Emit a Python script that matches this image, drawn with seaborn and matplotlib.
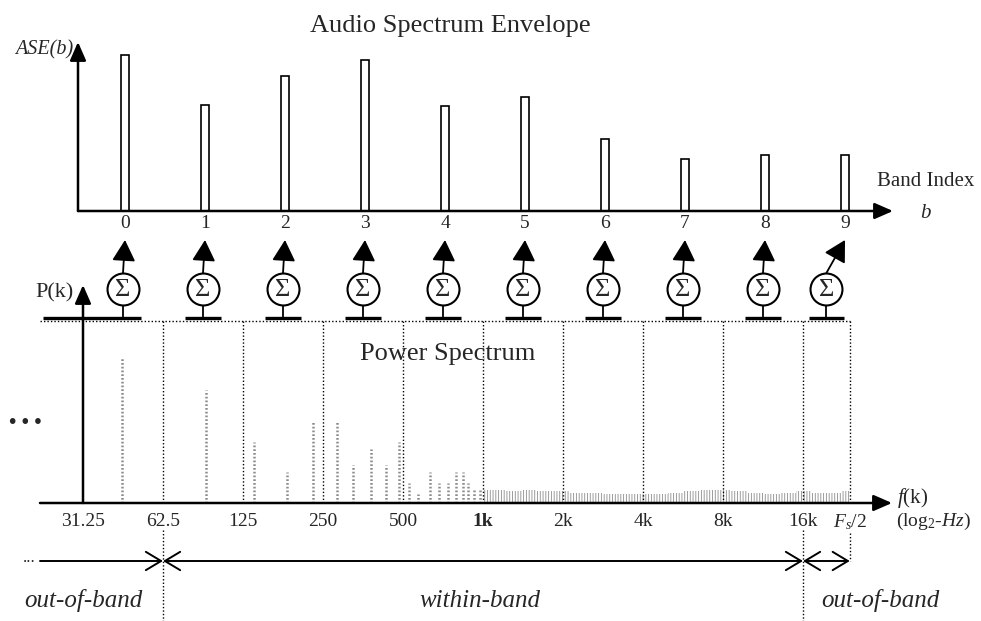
# ase_diagram.py
# Audio Spectrum Envelope: power spectrum summed into octave bands

import numpy as np
import matplotlib
matplotlib.use("Agg")
import matplotlib.pyplot as plt
import matplotlib.transforms as mtransforms
import seaborn as sns

# ----------------------------------------------------------------------
# Data
# ----------------------------------------------------------------------
bands = list(range(10))
ase_values = [0.97, 0.66, 0.84, 0.94, 0.65, 0.71, 0.45, 0.32, 0.35, 0.35]

# octave band edges (Hz); last one is Fs/2
band_edges = [31.25, 62.5, 125, 250, 500, 1000, 2000, 4000, 8000, 16000, 24000]
tick_labels = ["31.25", "62.5", "125", "250", "500", "1k", "2k", "4k", "8k",
               "16k", r"$F_s$/2"]

# harmonic peaks of the power spectrum
peak_freqs = [44, 91, 138, 183, 229, 282, 324, 379, 432, 483, 527, 570,
              632, 683, 739, 792, 841, 879, 925, 975]
peak_power = [1.00, 0.78, 0.42, 0.21, 0.56, 0.56, 0.26, 0.37, 0.26, 0.42,
              0.14, 0.06, 0.21, 0.14, 0.14, 0.21, 0.21, 0.14, 0.10, 0.10]

# low level floor above 1 kHz
floor_freqs = [1000, 1150, 1300, 1500, 1700, 1950, 2250, 2600, 3000, 3450,
               4000, 4600, 5300, 6100, 7000, 8000, 9200, 10600, 12200,
               14000, 16000, 18500, 21000, 24000]
floor_power = [0.09, 0.09, 0.08, 0.09, 0.08, 0.08, 0.07, 0.07, 0.06, 0.06,
               0.06, 0.06, 0.07, 0.08, 0.09, 0.09, 0.08, 0.07, 0.06, 0.07,
               0.08, 0.07, 0.07, 0.08]

# ----------------------------------------------------------------------
# Style
# ----------------------------------------------------------------------
sns.set_theme(style="white")
plt.rcParams["font.family"] = ["Liberation Serif", "DejaVu Serif"]
plt.rcParams["mathtext.fontset"] = "custom"
plt.rcParams["mathtext.rm"] = "Liberation Serif"
plt.rcParams["mathtext.it"] = "Liberation Serif:italic"
plt.rcParams["mathtext.bf"] = "Liberation Serif:bold"
plt.rcParams["hatch.linewidth"] = 0.6

W, H = 981, 621
fig = plt.figure(figsize=(W / 100, H / 100), dpi=100)
fig.patch.set_facecolor("white")


def fx(px):
    return px / W


def fy(py):
    return 1 - py / H


axis_arrow = dict(arrowstyle="-|>,head_length=0.8,head_width=0.35",
                  color="black", lw=1.8, mutation_scale=14,
                  shrinkA=0, shrinkB=0)

# ----------------------------------------------------------------------
# Top: Audio Spectrum Envelope
# ----------------------------------------------------------------------
ax_ase = fig.add_axes([fx(78), fy(211), fx(893 - 78), (211 - 42) / H])
sns.barplot(x=bands, y=ase_values, color="white", edgecolor="black",
            linewidth=1.2, width=0.11, saturation=1, ax=ax_ase)
ax_ase.set_xlim((78 - 125) / 80, (893 - 125) / 80)
ax_ase.set_ylim(0, 1.05)
ax_ase.set_yticks([])
ax_ase.set(xlabel="", ylabel="")
ax_ase.tick_params(axis="x", length=0, pad=3, labelsize=14)
sns.despine(ax=ax_ase, left=True, bottom=True)
ax_ase.patch.set_alpha(0)
ax_ase.annotate("", xy=(1, 0), xytext=(0, 0), xycoords="axes fraction",
                arrowprops=axis_arrow)
ax_ase.annotate("", xy=(0, 1), xytext=(0, 0), xycoords="axes fraction",
                arrowprops=axis_arrow)

# ----------------------------------------------------------------------
# Bottom: Power Spectrum
# ----------------------------------------------------------------------
ax_ps = fig.add_axes([fx(40), fy(503), fx(892 - 40), (503 - 285) / H])
ax_ps.set_xscale("log", base=2)
f_left = 31.25 * 2 ** ((40 - 83) / 80)
f_right = 31.25 * 2 ** ((892 - 83) / 80)
ax_ps.set_xlim(f_left, f_right)
ax_ps.set_ylim(0, 1.5)
top_line = 1.25

ax_ps.vlines(peak_freqs, 0, peak_power, colors="0.55", lw=1.8,
             linestyles=(0, (0.7, 0.8)))
ax_ps.fill_between(floor_freqs, 0, floor_power, step="mid",
                   facecolor="none", edgecolor="0.55", hatch="||||||", lw=0)

# band boundaries
ax_ps.vlines(band_edges[1:], 0, top_line, colors="black", lw=1.0,
             linestyles=(0, (1, 1.5)))
ax_ps.hlines(top_line, f_left, band_edges[-1], colors="black", lw=1.0,
             linestyles=(0, (1, 1.5)))

ax_ps.set_xticks(band_edges)
ax_ps.set_xticklabels(tick_labels)
ax_ps.xaxis.set_minor_locator(matplotlib.ticker.NullLocator())
ax_ps.set_yticks([])
ax_ps.tick_params(axis="x", length=0, pad=7, labelsize=14)
ax_ps.get_xticklabels()[5].set_fontweight("bold")
sns.despine(ax=ax_ps, left=True, bottom=True)
ax_ps.patch.set_alpha(0)

ax_ps.annotate("", xy=(1, 0), xytext=(0, 0), xycoords="axes fraction",
               arrowprops=axis_arrow)
ax_ps.annotate("", xy=(band_edges[0], 1), xytext=(band_edges[0], 0),
               xycoords=ax_ps.get_xaxis_transform(), arrowprops=axis_arrow)

# ----------------------------------------------------------------------
# Summation blocks between the two plots
# ----------------------------------------------------------------------
trans_ase = mtransforms.blended_transform_factory(ax_ase.transData, fig.transFigure)
trans_ps = mtransforms.blended_transform_factory(ax_ps.transData, fig.transFigure)

for b in bands:
    lo, hi = band_edges[b], band_edges[b + 1]
    cx = np.sqrt(lo * hi)
    left = lo / np.sqrt(2) if b == 0 else cx * 2 ** -0.22
    ax_ps.plot([left, cx * 2 ** 0.22], [fy(318), fy(318)], color="black",
               lw=2.4, transform=trans_ps, clip_on=False,
               solid_capstyle="butt")
    ax_ps.plot([cx, cx], [fy(318), fy(305)], color="black", lw=1.3,
               transform=trans_ps, clip_on=False)
    ax_ps.plot([cx], [fy(289)], marker="o", ms=23, mfc="white", mec="black",
               mew=1.5, transform=trans_ps, clip_on=False)
    ax_ps.text(cx, fy(290), "Σ", ha="center", va="center", fontsize=19,
               transform=trans_ps)
    ax_ase.annotate("", xy=(b, fy(240)), xycoords=trans_ase,
                    xytext=(cx, fy(273)), textcoords=trans_ps,
                    arrowprops=dict(arrowstyle="-|>,head_length=0.65,head_width=0.36",
                                    color="black", lw=1.3, mutation_scale=20,
                                    shrinkA=0, shrinkB=0))

# ----------------------------------------------------------------------
# Band ranges below the frequency axis
# ----------------------------------------------------------------------
range_arrow = dict(color="black", lw=1.4, mutation_scale=20,
                   shrinkA=0, shrinkB=0)
ax_ps.annotate("", xy=(band_edges[1], fy(561)), xycoords=trans_ps,
               xytext=(f_left, fy(561)), textcoords=trans_ps,
               arrowprops=dict(arrowstyle="->,head_length=0.55,head_width=0.33",
                               **range_arrow))
ax_ps.annotate("", xy=(band_edges[-2], fy(561)), xycoords=trans_ps,
               xytext=(band_edges[1], fy(561)), textcoords=trans_ps,
               arrowprops=dict(arrowstyle="<->,head_length=0.55,head_width=0.33",
                               **range_arrow))
ax_ps.annotate("", xy=(band_edges[-1], fy(561)), xycoords=trans_ps,
               xytext=(band_edges[-2], fy(561)), textcoords=trans_ps,
               arrowprops=dict(arrowstyle="<->,head_length=0.55,head_width=0.33",
                               **range_arrow))
for f, y0, y1 in [(band_edges[1], 530, 621), (band_edges[-2], 530, 621),
                  (band_edges[-1], 533, 561)]:
    ax_ps.plot([f, f], [fy(y0), fy(y1)], color="black", lw=1.0,
               ls=(0, (1, 1.5)), transform=trans_ps, clip_on=False)

# ----------------------------------------------------------------------
# Labels
# ----------------------------------------------------------------------
fig.text(fx(450), fy(26), "Audio Spectrum Envelope", ha="center", va="center",
         fontsize=19)
fig.text(fx(448), fy(354), "Power Spectrum", ha="center", va="center",
         fontsize=19)
fig.text(fx(73), fy(50), "ASE(b)", ha="right", va="center", fontsize=14.5,
         style="italic")
fig.text(fx(74), fy(293), "P(k)", ha="right", va="center", fontsize=16)
fig.text(fx(926), fy(182), "Band Index", ha="center", va="center", fontsize=15)
fig.text(fx(925), fy(213), "b", ha="center", va="center", fontsize=15,
         style="italic")
fig.text(fx(897), fy(498), r"$f$(k)", ha="left", va="center", fontsize=15)
fig.text(fx(896), fy(521), r"(log$_2$-$Hz$)", ha="left", va="center",
         fontsize=14)
fig.text(fx(25), fy(423), "• • •", ha="center", va="center", fontsize=15,
         fontweight="bold")
fig.text(fx(29), fy(558), "...", ha="center", va="center", fontsize=12)
fig.text(fx(83), fy(601), "out-of-band", ha="center", va="center",
         fontsize=18, style="italic")
fig.text(fx(480), fy(601), "within-band", ha="center", va="center",
         fontsize=18, style="italic")
fig.text(fx(880), fy(601), "out-of-band", ha="center", va="center",
         fontsize=18, style="italic")

fig.savefig("out.png", dpi=100)
